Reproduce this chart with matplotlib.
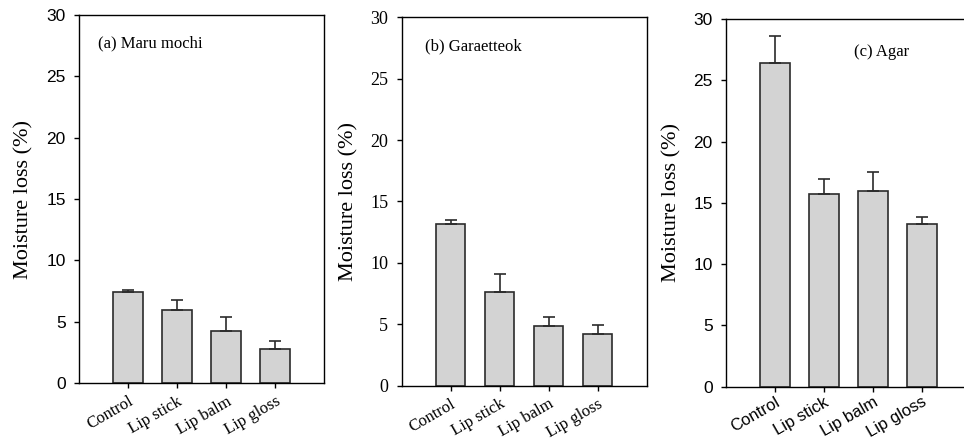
import matplotlib
matplotlib.use("Agg")
import matplotlib.pyplot as plt
import numpy as np

categories = ["Control", "Lip stick", "Lip balm", "Lip gloss"]
yticks = [0, 5, 10, 15, 20, 25, 30]

mochi_mean = [7.40, 5.97, 4.26, 2.77]
mochi_sd = [0.20, 0.82, 1.12, 0.62]

garae_mean = [13.17, 7.60, 4.89, 4.24]
garae_sd = [0.33, 1.50, 0.73, 0.67]

agar_mean = [26.44, 15.72, 15.97, 13.27]
agar_sd = [2.16, 1.20, 1.55, 0.55]

panel_titles = ["(a) Maru mochi", "(b) Garaetteok", "(c) Agar"]

SERIF = "Liberation Serif"
SANS = "Liberation Sans"

fig = plt.figure(figsize=(9.64, 4.41), dpi=100)

panels = [
    dict(rect=[0.0820, 0.1315, 0.2541, 0.8345], mean=mochi_mean, sd=mochi_sd,
         title=panel_titles[0], tpos=(-0.61, 27.7), yfont=SANS, ysize=12.5,
         xfont=SERIF, xsize=12, lab=-0.185, xpad=4),
    dict(rect=[0.4167, 0.1254, 0.2541, 0.8354], mean=garae_mean, sd=garae_sd,
         title=panel_titles[1], tpos=(-0.52, 27.6), yfont=SERIF, ysize=13,
         xfont=SERIF, xsize=12, lab=-0.178, xpad=4),
    dict(rect=[0.7531, 0.1231, 0.2541, 0.8338], mean=agar_mean, sd=agar_sd,
         title=panel_titles[2], tpos=(1.61, 27.3), yfont=SANS, ysize=12.5,
         xfont=SANS, xsize=12, lab=-0.18, xpad=2),
]

x = np.arange(len(categories))
for p in panels:
    ax = fig.add_axes(p["rect"])
    mean = np.array(p["mean"])
    sd = np.array(p["sd"])
    ax.bar(x, mean, width=0.6, color="#d3d3d3", edgecolor="#2b2b2b",
           linewidth=1.2, zorder=2)
    ax.errorbar(x, mean, yerr=[np.zeros_like(sd), sd], fmt="none",
                ecolor="#2b2b2b", elinewidth=1.2, capsize=4, capthick=1.2,
                zorder=3)
    ax.set_xlim(-1, 4)
    ax.set_ylim(0, 30)
    ax.set_yticks(yticks)
    ax.set_yticklabels([str(t) for t in yticks], fontfamily=p["yfont"],
                       fontsize=p["ysize"])
    ax.set_xticks(x)
    ax.set_xticklabels(categories, fontfamily=p["xfont"], fontsize=p["xsize"],
                       rotation=30, ha="right", rotation_mode="anchor")
    ax.tick_params(direction="out", length=3.6, width=1.0, color="black")
    ax.tick_params(axis="y", pad=6)
    ax.tick_params(axis="x", pad=p["xpad"])
    for s in ax.spines.values():
        s.set_linewidth(1.0)
        s.set_color("black")
    ax.set_ylabel("Moisture loss (%)", fontfamily=SERIF, fontsize=16)
    ax.yaxis.set_label_coords(p["lab"], 0.5)
    ax.text(p["tpos"][0], p["tpos"][1], p["title"], fontfamily=SERIF,
            fontsize=12, ha="left", va="center")

fig.savefig("out.png", dpi=100)
